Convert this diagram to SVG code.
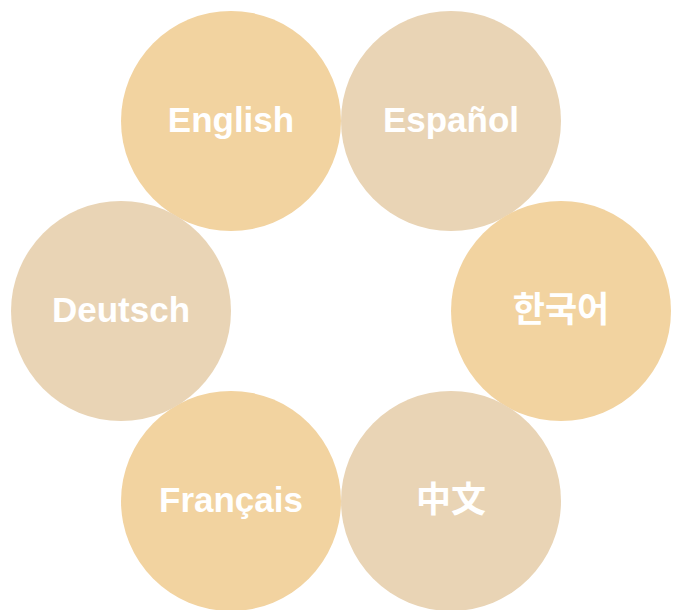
<svg xmlns="http://www.w3.org/2000/svg" width="676" height="610" viewBox="0 0 676 610">
<style>
.a{fill:#F2D3A0}
.b{fill:#E9D4B5}
text{fill:#FFFFFF;font-family:"Liberation Sans","Noto Sans CJK KR","Noto Sans CJK SC",sans-serif;font-weight:bold;font-size:35px;text-anchor:middle}
</style>
<rect width="676" height="610" fill="#FFFFFF"/>
<g id="connectors"></g>
<g id="english"><circle class="a" cx="231" cy="121" r="110"/><text x="231" y="132">English</text></g>
<g id="espanol"><circle class="b" cx="451" cy="121" r="110"/><text x="451" y="132">Español</text></g>
<g id="korean"><circle class="a" cx="561" cy="311" r="110"/><text x="561" y="322">한국어</text></g>
<g id="chinese"><circle class="b" cx="451" cy="501" r="110"/><text x="451" y="512">中文</text></g>
<g id="francais"><circle class="a" cx="231" cy="501" r="110"/><text x="231" y="512">Français</text></g>
<g id="deutsch"><circle class="b" cx="121" cy="311" r="110"/><text x="121" y="322">Deutsch</text></g>
</svg>
